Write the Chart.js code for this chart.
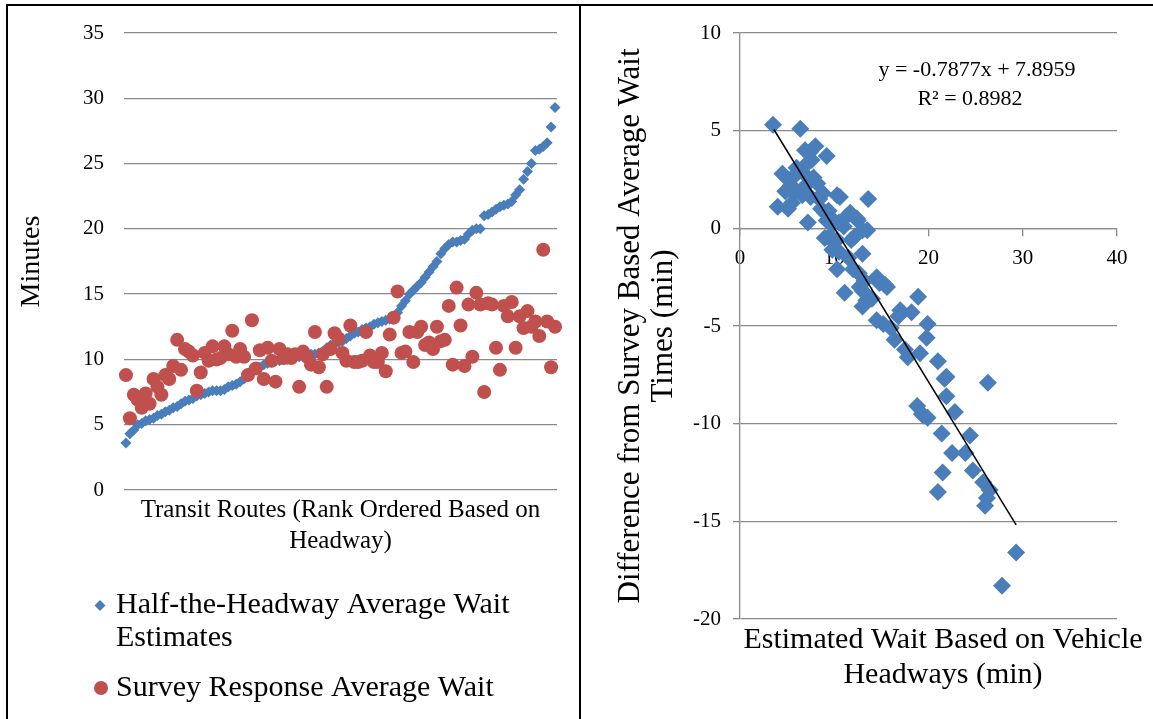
<!DOCTYPE html>
<html>
<head>
<meta charset="utf-8">
<title>Wait time estimates</title>
<script src="https://cdn.jsdelivr.net/npm/chart.js@4.4.1/dist/chart.umd.min.js"></script>
<style>
    body { margin: 0; background: #fff; }
    #wrap { position: relative; width: 1153px; height: 719px; overflow: hidden; background: #fff; }
    #wrap canvas { position: absolute; top: 0; }
    #leftChart { left: 0; }
    #rightChart { left: 581px; }
    .frame { position: absolute; background: #000; }
</style>
</head>
<body>
<div id="wrap">
    <canvas id="leftChart" width="580" height="719"></canvas>
    <canvas id="rightChart" width="572" height="719"></canvas>
    <div class="frame" style="left:6px;top:4px;width:1147px;height:2px"></div>
    <div class="frame" style="left:6px;top:4px;width:2px;height:715px"></div>
    <div class="frame" style="left:579px;top:4px;width:2px;height:715px"></div>
</div>
<script>
/*********************** Data ************************/
// left panel: routes rank ordered by headway
var headwayWait = [3.6, 4.3, 4.6, 5.0, 5.1, 5.3, 5.4, 5.5, 5.7, 5.8,
    6.0, 6.1, 6.3, 6.4, 6.6, 6.8, 6.9, 7.0, 7.2, 7.3,
    7.4, 7.5, 7.6, 7.6, 7.6, 7.7, 7.9, 8.0, 8.1, 8.3,
    8.5, 8.8, 9.2, 9.3, 9.4, 9.6, 9.7, 9.8, 9.9, 9.9,
    10.0, 10.0, 10.1, 10.2, 10.2, 10.3, 10.3, 10.4, 10.4, 10.5,
    10.6, 10.9, 11.1, 11.2, 11.3, 11.4, 11.6, 11.8, 12.0, 12.1,
    12.3, 12.4, 12.5, 12.7, 12.8, 12.9, 13.0, 13.1, 13.3, 13.6,
    14.1, 14.5, 15.0, 15.3, 15.6, 15.9, 16.3, 16.7, 17.1, 17.5,
    18.1, 18.5, 18.8, 19.0, 19.0, 19.1, 19.2, 19.6, 19.9, 20.0,
    20.0, 21.0, 21.1, 21.3, 21.5, 21.7, 21.8, 21.9, 22.1, 22.6,
    23.0, 23.8, 24.4, 25.0, 26.0, 26.1, 26.3, 26.6, 27.8, 29.3];
var surveyWait = [8.8, 5.5, 7.3, 6.9, 6.3, 7.4, 6.6, 8.5, 7.9, 7.3,
    8.8, 8.5, 9.5, 11.5, 9.2, 10.8, 10.6, 10.3, 7.6, 9.0,
    10.5, 9.9, 11.0, 10.0, 10.1, 11.0, 10.4, 12.2, 10.2, 10.8,
    10.2, 8.8, 13.0, 9.3, 10.7, 8.5, 10.9, 9.9, 8.3, 10.8,
    10.1, 10.4, 10.1, 10.4, 7.9, 10.6, 10.2, 9.6, 12.1, 9.4,
    10.4, 7.9, 10.8, 12.0, 11.6, 10.5, 9.9, 12.6, 9.8, 9.8,
    9.9, 12.1, 10.3, 9.8, 9.8, 10.5, 9.1, 11.9, 13.2, 15.2,
    10.5, 10.6, 12.1, 9.8, 12.1, 12.5, 11.1, 11.3, 10.8, 12.5,
    11.4, 11.5, 14.1, 9.6, 15.5, 12.6, 9.5, 14.2, 10.2, 15.1,
    14.2, 7.5, 14.3, 14.2, 10.9, 9.2, 14.1, 13.3, 14.4, 10.9,
    13.3, 12.4, 13.7, 12.5, 12.9, 11.8, 18.4, 12.9, 9.4, 12.5];
var routeRank = headwayWait.map(function (v, i) { return i + 1; });
var minuteTicks = [0, 35, 5];   // min, max, step

// right panel: estimated wait vs difference from survey
var estWait = [3.5, 6.4, 6.9, 7.4, 8.0, 9.2, 7.6, 4.5, 5.1, 6.0,
    6.2, 7.1, 7.2, 7.8, 8.2, 4.8, 5.8, 5.4, 6.6, 4.0,
    5.1, 5.5, 8.8, 8.4, 7.2, 5.6, 6.8, 7.5, 8.6, 9.0,
    9.5,
    10.3, 10.6, 13.6, 9.4, 11.3, 11.7, 12.4, 12.5, 9.2, 9.8,
    10.5, 11.0, 13.0, 13.5, 9.0, 9.5, 10.3, 9.9, 11.8, 12.2,
    9.8, 13.0, 10.5, 11.5, 10.3, 12.0, 12.6, 11.1, 12.7, 13.0,
    13.2, 14.5, 14.8, 15.6, 15.4, 13.0, 13.4, 14.5, 14.0,
    18.9, 16.8, 17.0, 18.2, 19.9, 15.2, 19.8, 16.4, 16.0, 17.8,
    17.5, 19.1, 21.0, 21.7, 21.9, 26.3, 21.9, 18.8, 19.3, 19.9,
    19.5, 22.8, 21.4, 24.4, 22.5, 23.9, 24.7, 21.5, 25.8, 26.5,
    26.2, 21.0, 26.0, 29.3, 27.8];
var waitDiff = [5.3, 5.1, 4.0, 3.9, 4.2, 3.7, 3.5, 2.8, 2.5, 3.1,
    2.9, 3.3, 2.6, 2.6, 2.3, 1.9, 1.8, 2.2, 1.7, 1.1,
    1.0, 1.3, 1.8, 1.5, 0.3, 2.6, 2.1, 1.6, 1.0, 0.8,
    0.6,
    1.7, 1.6, 1.5, 0.9, 0.6, 0.8, 0.5, 0.4, 0.4, 0.2,
    0.3, 0.1, -0.1, -0.1, -0.5, -0.4, -0.6, -0.7, -0.6, -0.4,
    -1.1, -1.3, -1.2, -1.5, -2.1, -2.1, -2.3, -3.3, -3.0, -3.2,
    -2.7, -2.5, -2.8, -3.0, -2.9, -4.0, -3.7, -4.7, -3.6,
    -3.5, -4.5, -4.2, -4.3, -4.9, -4.9, -5.6, -5.7, -5.1, -6.6,
    -6.2, -6.4, -6.8, -7.7, -7.6, -7.9, -8.6, -9.1, -9.5, -9.7,
    -9.6, -9.4, -10.5, -10.6, -11.5, -11.5, -12.4, -12.5, -13.0, -13.4,
    -13.8, -13.5, -14.2, -16.6, -18.3];
var xTicksRight = [0, 40, 10];
var yTicksRight = [-20, 10, 5];

// linear trendline as printed on the chart
var trendSlope = -0.7877;
var trendIntercept = 7.8959;
var trendR2 = 0.8982;
var trendRange = [3.6, 29.3];

/*********************** Style ************************/
var BLUE = '#4a7ebb';
var RED = '#c0504d';
var GRID = '#8a8a8a';
var SERIF = '"Liberation Serif", "Times New Roman", serif';

Chart.defaults.font.family = SERIF;
Chart.defaults.color = '#000';
Chart.defaults.animation = false;

function fitWidth(w) { return function (scale) { scale.width = w; }; }
function fitHeight(h) { return function (scale) { scale.height = h; }; }

/*********************** Left chart ************************/
// legend drawn by hand so the first entry can wrap on two lines
var wrapLegend = {
    id: 'wrapLegend',
    afterDraw: function (chart) {
        var ctx = chart.ctx;
        ctx.save();
        ctx.fillStyle = BLUE;
        ctx.beginPath();
        ctx.moveTo(100, 600); ctx.lineTo(105.5, 605.5); ctx.lineTo(100, 611); ctx.lineTo(94.5, 605.5);
        ctx.closePath();
        ctx.fill();
        ctx.fillStyle = RED;
        ctx.beginPath();
        ctx.arc(101, 688, 7, 0, Math.PI * 2);
        ctx.fill();
        ctx.fillStyle = '#000';
        ctx.font = '30px ' + SERIF;
        ctx.textBaseline = 'middle';
        ctx.textAlign = 'left';
        ctx.fillText('Half-the-Headway Average Wait', 116, 605);
        ctx.fillText('Estimates', 116, 638);
        ctx.fillText('Survey Response Average Wait', 116, 688);
        ctx.restore();
    }
};

new Chart(document.getElementById('leftChart'), {
    type: 'line',
    data: {
        labels: routeRank,
        datasets: [{
            label: 'Half-the-Headway Average Wait Estimates',
            data: headwayWait,
            showLine: false,
            pointStyle: 'rectRot',
            pointRadius: 5.5,
            pointBorderWidth: 0,
            backgroundColor: BLUE,
            borderColor: BLUE,
            order: 2
        }, {
            label: 'Survey Response Average Wait',
            data: surveyWait,
            showLine: false,
            pointStyle: 'circle',
            pointRadius: 7,
            pointBorderWidth: 0,
            backgroundColor: RED,
            borderColor: RED,
            order: 1
        }]
    },
    options: {
        responsive: false,
        layout: { padding: { top: 33, right: 23, bottom: 149, left: 0 } },
        plugins: { legend: { display: false }, tooltip: { enabled: false } },
        scales: {
            x: {
                type: 'category',
                offset: true,
                grid: { display: false },
                border: { display: false },
                ticks: { display: false },
                title: {
                    display: true,
                    text: ['Transit Routes (Rank Ordered Based on', 'Headway)'],
                    font: { size: 25, lineHeight: 1.25 },
                    padding: { top: 0, bottom: 13 }
                },
                afterFit: fitHeight(80)
            },
            y: {
                min: minuteTicks[0],
                max: minuteTicks[1],
                ticks: { stepSize: minuteTicks[2], padding: 20, font: { size: 21 } },
                grid: { color: GRID, lineWidth: 1.3, drawTicks: false },
                border: { display: false },
                title: { display: true, text: 'Minutes', font: { size: 28 }, padding: { top: 15 } },
                afterFit: fitWidth(124)
            }
        }
    },
    plugins: [wrapLegend]
});

/*********************** Right chart ************************/
// equation, R² and the x title (the title sits off the plot centre)
var trendLabel = {
    id: 'trendLabel',
    afterDraw: function (chart) {
        var ctx = chart.ctx;
        ctx.save();
        ctx.fillStyle = '#000';
        ctx.textAlign = 'center';
        ctx.textBaseline = 'middle';
        ctx.font = '22px ' + SERIF;
        ctx.fillText('y = ' + trendSlope + 'x + ' + trendIntercept, 396, 70);
        ctx.fillText('R\u00b2 = ' + trendR2, 389, 99);
        ctx.font = '30px ' + SERIF;
        ctx.fillText('Estimated Wait Based on Vehicle', 362, 640);
        ctx.fillText('Headways (min)', 362, 675);
        ctx.restore();
    }
};

var diffPoints = estWait.map(function (x, i) { return { x: x, y: waitDiff[i] }; });
var trendPoints = trendRange.map(function (x) { return { x: x, y: trendSlope * x + trendIntercept }; });

new Chart(document.getElementById('rightChart'), {
    type: 'scatter',
    data: {
        datasets: [{
            label: 'Difference',
            data: diffPoints,
            pointStyle: 'rectRot',
            pointRadius: 9,
            pointBorderWidth: 0,
            backgroundColor: BLUE,
            borderColor: BLUE,
            order: 2
        }, {
            type: 'line',
            label: 'Linear',
            data: trendPoints,
            borderColor: '#000',
            borderWidth: 1.5,
            pointRadius: 0,
            fill: false,
            order: 1
        }]
    },
    options: {
        responsive: false,
        layout: { padding: { top: 33, right: 36, bottom: 100, left: 0 } },
        plugins: { legend: { display: false }, tooltip: { enabled: false } },
        scales: {
            x: {
                type: 'linear',
                min: xTicksRight[0],
                max: xTicksRight[1],
                position: { y: 0 },
                ticks: { stepSize: xTicksRight[2], padding: 11, font: { size: 21 } },
                grid: { drawOnChartArea: false, drawTicks: true, tickLength: 7, color: GRID, lineWidth: 1.3 },
                border: { color: GRID, width: 1.3 }
            },
            y: {
                min: yTicksRight[0],
                max: yTicksRight[1],
                ticks: { stepSize: yTicksRight[2], padding: 12, font: { size: 21 } },
                grid: { color: GRID, lineWidth: 1.3, tickLength: 7 },
                border: { color: GRID, width: 1.3 },
                title: {
                    display: true,
                    text: ['Difference from Survey Based Average Wait', 'Times (min)'],
                    font: { size: 31, lineHeight: 1.07 },
                    padding: { top: 33 }
                },
                afterFit: fitWidth(159)
            }
        }
    },
    plugins: [trendLabel]
});
</script>
</body>
</html>
